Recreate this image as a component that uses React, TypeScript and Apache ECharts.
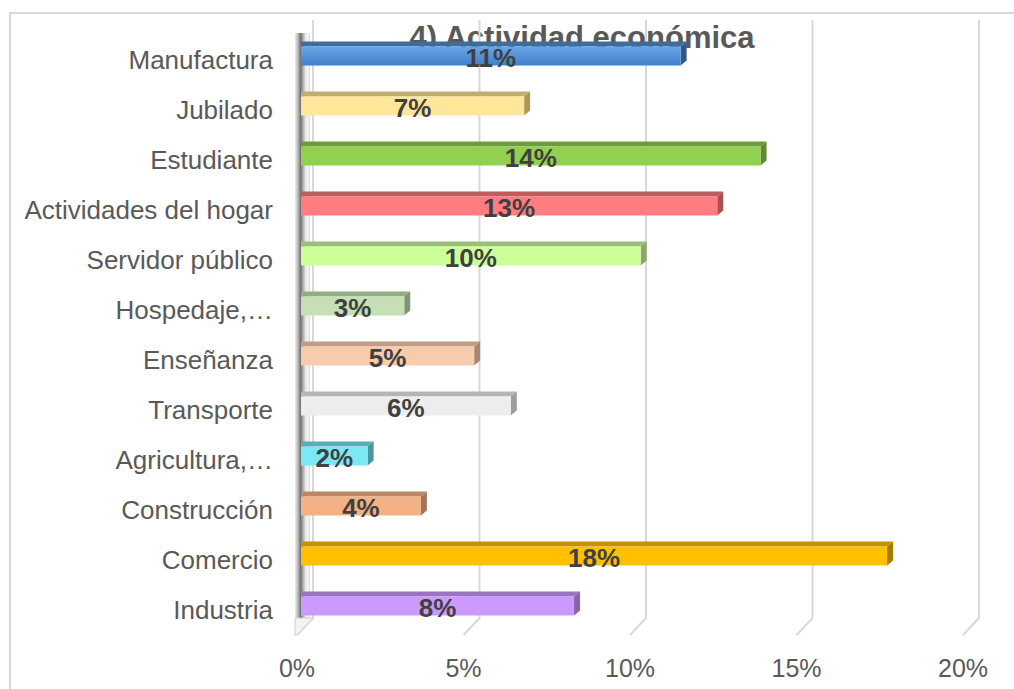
import React, { useEffect, useRef } from 'react';
import * as echarts from 'echarts';

const titleText = '4) Actividad económica';
const categories = [
  'Manufactura',
  'Jubilado',
  'Estudiante',
  'Actividades del hogar',
  'Servidor público',
  'Hospedaje,…',
  'Enseñanza',
  'Transporte',
  'Agricultura,…',
  'Construcción',
  'Comercio',
  'Industria',
];
const values = [11.4, 6.7, 13.8, 12.5, 10.2, 3.1, 5.2, 6.3, 2.0, 3.6, 17.6, 8.2];
const frontColors = ['#4f90d8', '#ffe699', '#92d050', '#ff7c80', '#ccff99', '#c5e0b4', '#f8cbad', '#ededed', '#7be8f4', '#f4b183', '#ffc000', '#cc99ff'];
const topColors = ['#3d6c9e', '#c4ad6c', '#6e9b3c', '#c05b5e', '#9bbf76', '#93ab86', '#c29c84', '#b5b5b5', '#58acb7', '#bb8764', '#c29200', '#9a74c0'];
const sideColors = ['#2f5a88', '#ad985c', '#5f8a32', '#a85053', '#88a866', '#7f9674', '#a88672', '#9c9c9c', '#4a96a0', '#a37556', '#a67d00', '#8864aa'];
const xTicks = [0, 5, 10, 15, 20];

const FONT = '"Liberation Sans", Arial, sans-serif';

export default function App() {
  const ref = useRef<HTMLDivElement>(null);
  useEffect(() => {
    if (!ref.current) return;
    const chart = echarts.init(ref.current, null, { renderer: 'svg' });
    const option: any = {
      animation: false,
      backgroundColor: '#ffffff',
      grid: { left: 297, right: 51, top: 35, bottom: 54, containLabel: false, outerBoundsMode: 'none' },
      xAxis: {
        type: 'value',
        min: 0,
        max: 20,
        interval: 5,
        axisLine: { show: false },
        axisTick: { show: false },
        splitLine: { show: false },
        axisLabel: { formatter: '{value}%', fontSize: 25, color: '#595959', margin: 20, fontFamily: FONT },
      },
      yAxis: {
        type: 'category',
        data: categories,
        inverse: true,
        axisLine: { show: false },
        axisTick: { show: false },
        splitLine: { show: false },
        axisLabel: { fontSize: 26, color: '#595959', margin: 24, fontFamily: FONT },
      },
      graphic: [
        {
          type: 'rect',
          z: 0,
          shape: { x: 10, y: 13, width: 1100, height: 800 },
          style: { fill: 'none', stroke: '#d9d9d9', lineWidth: 2 },
          silent: true,
        },
        {
          type: 'text',
          z: 0,
          x: 582,
          y: 37,
          style: {
            text: titleText,
            fontSize: 31,
            fontWeight: 'bold',
            fontFamily: FONT,
            fill: '#595959',
            align: 'center',
            verticalAlign: 'middle',
          },
          silent: true,
        },
      ],
      series: [
        {
          type: 'custom',
          name: 'grid',
          z: 1,
          silent: true,
          data: xTicks.map((t) => [t, 0]),
          encode: { x: 0, y: 1 },
          renderItem: (params: any, api: any) => {
            const cs = params.coordSys;
            const x = api.coord([api.value(0), 0])[0];
            const bottom = cs.y + cs.height;
            return {
              type: 'polyline',
              shape: { points: [[x + 16, 20], [x + 16, bottom - 17], [x, bottom]] },
              style: { stroke: '#d9d9d9', lineWidth: 2, fill: 'none' },
            };
          },
        },
        {
          type: 'custom',
          name: 'wall',
          z: 2,
          silent: true,
          data: [[0, 0]],
          encode: { x: 0, y: 1 },
          renderItem: (params: any, api: any) => {
            const cs = params.coordSys;
            const x0 = api.coord([0, 0])[0];
            const bottom = cs.y + cs.height;
            return {
              type: 'group',
              children: [
                {
                  type: 'rect',
                  shape: { x: x0 - 2, y: 33, width: 15, height: bottom - 17 - 33 },
                  style: {
                    fill: new echarts.graphic.LinearGradient(0, 0, 1, 0, [
                      { offset: 0, color: '#ececec' },
                      { offset: 0.2, color: '#b8b8b8' },
                      { offset: 0.38, color: '#6f6f6f' },
                      { offset: 0.52, color: '#a8a8a8' },
                      { offset: 0.7, color: '#e4e4e4' },
                      { offset: 0.85, color: '#f6f6f6' },
                      { offset: 1, color: '#d8d8d8' },
                    ]),
                  },
                },
                {
                  type: 'polygon',
                  shape: { points: [[x0 - 2, bottom - 17], [x0 + 16, bottom - 17], [x0, bottom], [x0 - 2, bottom]] },
                  style: { fill: '#f2f2f2', stroke: '#d0d0d0', lineWidth: 1 },
                },
              ],
            };
          },
        },
        {
          type: 'custom',
          name: 'Actividad económica',
          z: 5,
          data: values.map((v, i) => [v, i]),
          encode: { x: 0, y: 1 },
          renderItem: (params: any, api: any) => {
            const v = api.value(0);
            const idx = api.value(1);
            const end = api.coord([v, idx]);
            const start = api.coord([0, idx]);
            const bx0 = start[0] + 4;
            const bx1 = end[0] + 4;
            const cy = end[1] - 4;
            const h = 19;
            const top = cy - h / 2;
            const bot = cy + h / 2;
            const dx = 6;
            const dy = -5;
            const front =
              idx === 0
                ? new echarts.graphic.LinearGradient(0, 0, 0, 1, [
                    { offset: 0, color: '#6aa6e6' },
                    { offset: 1, color: '#3f80c9' },
                  ])
                : frontColors[idx];
            return {
              type: 'group',
              children: [
                {
                  type: 'polygon',
                  shape: { points: [[bx0, top], [bx1, top], [bx1 + dx, top + dy], [bx0, top + dy]] },
                  style: { fill: topColors[idx] },
                },
                {
                  type: 'polygon',
                  shape: { points: [[bx1, top], [bx1 + dx, top + dy], [bx1 + dx, bot + dy], [bx1, bot]] },
                  style: { fill: sideColors[idx] },
                },
                {
                  type: 'rect',
                  shape: { x: bx0, y: top, width: bx1 - bx0, height: h },
                  style: { fill: front },
                },
                {
                  type: 'text',
                  style: {
                    text: Math.round(v) + '%',
                    x: (bx0 + bx1) / 2,
                    y: cy + 2,
                    align: 'center',
                    verticalAlign: 'middle',
                    fontSize: 26,
                    fontWeight: 'bold',
                    fontFamily: FONT,
                    fill: '#404040',
                  },
                },
              ],
            };
          },
        },
      ],
    };
    chart.setOption(option);
    return () => chart.dispose();
  }, []);
  return (
    <div
      ref={ref}
      style={{ position: 'fixed', left: 0, top: 0, width: 1014, height: 689, background: '#fff' }}
    />
  );
}
